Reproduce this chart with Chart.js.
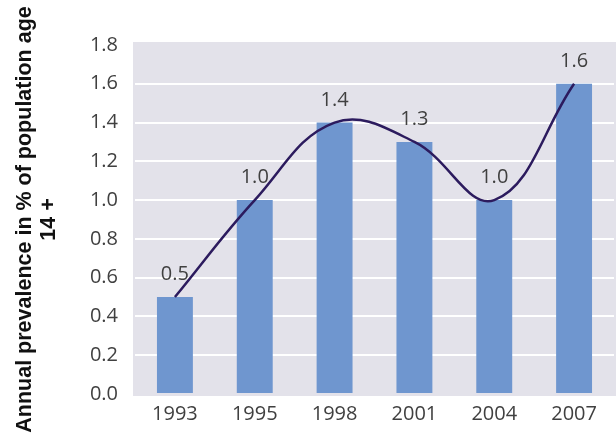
<!DOCTYPE html>
<html>
<head>
<meta charset="utf-8">
<style>
html,body{margin:0;padding:0;background:#ffffff;}
#c{display:block;}
</style>
<script src="https://cdn.jsdelivr.net/npm/chart.js@4.4.1/dist/chart.umd.min.js"></script>
</head>
<body>
<canvas id="c" width="616" height="437"></canvas>
<script>
const categories = ['1993', '1995', '1998', '2001', '2004', '2007'];
const prevalence = [0.5, 1.0, 1.4, 1.3, 1.0, 1.6];
const yTitle = ['Annual prevalence in % of population age', '14 +'];

const BG = '#e3e2ea';
const BAR = '#6f96cf';
const LINE = '#2c1b5e';
const TXT = '#404040';

const bgPlugin = {
  id: 'bg',
  beforeDraw(chart) {
    const {ctx, chartArea: a} = chart;
    ctx.save();
    ctx.fillStyle = BG;
    ctx.fillRect(a.left - 2, a.top - 3, chart.width - (a.left - 2), a.bottom - a.top + 5);
    ctx.restore();
  }
};

const labelPlugin = {
  id: 'barLabels',
  afterDatasetDraw(chart, args) {
    if (args.index !== 1) return;
    const {ctx} = chart;
    const meta = chart.getDatasetMeta(1);
    ctx.save();
    ctx.font = '20px "Open Sans"';
    ctx.fillStyle = TXT;
    ctx.textAlign = 'center';
    ctx.textBaseline = 'alphabetic';
    meta.data.forEach((bar, i) => {
      ctx.fillText(prevalence[i].toFixed(1), bar.x, bar.y - 17);
    });
    ctx.restore();
  }
};

new Chart(document.getElementById('c'), {
  data: {
    labels: categories,
    datasets: [
      {
        type: 'line',
        data: prevalence,
        borderColor: LINE,
        borderWidth: 2.5,
        pointRadius: 0,
        tension: 0.4,
        fill: false,
        order: 0
      },
      {
        type: 'bar',
        data: prevalence,
        backgroundColor: BAR,
        borderWidth: 0,
        barPercentage: 0.45,
        categoryPercentage: 1.0,
        order: 1
      }
    ]
  },
  options: {
    responsive: false,
    animation: false,
    devicePixelRatio: 1,
    layout: {padding: {left: 0, right: 2, top: 45, bottom: 3}},
    plugins: {legend: {display: false}, tooltip: {enabled: false}},
    scales: {
      x: {
        grid: {display: false, drawTicks: false},
        border: {display: false},
        ticks: {color: TXT, font: {family: 'Open Sans', size: 20}, padding: 8}
      },
      y: {
        min: 0,
        max: 1.8,
        afterFit(scale) { scale.width = 135; },
        border: {display: false},
        grid: {
          drawTicks: false,
          lineWidth: 2,
          color: (c) => (c.tick && (c.tick.value === 0 || c.tick.value >= 1.79)) ? 'rgba(0,0,0,0)' : '#ffffff'
        },
        ticks: {
          stepSize: 0.2,
          padding: 17,
          color: TXT,
          font: {family: 'Open Sans', size: 20},
          callback: (v) => Number(v).toFixed(1)
        },
        title: {
          display: true,
          text: yTitle,
          color: '#111111',
          font: {family: 'Liberation Sans', size: 21.5, weight: 'bold', lineHeight: 1.12},
          padding: {top: 13, bottom: 0}
        }
      }
    }
  },
  plugins: [bgPlugin, labelPlugin]
});
</script>
</body>
</html>
